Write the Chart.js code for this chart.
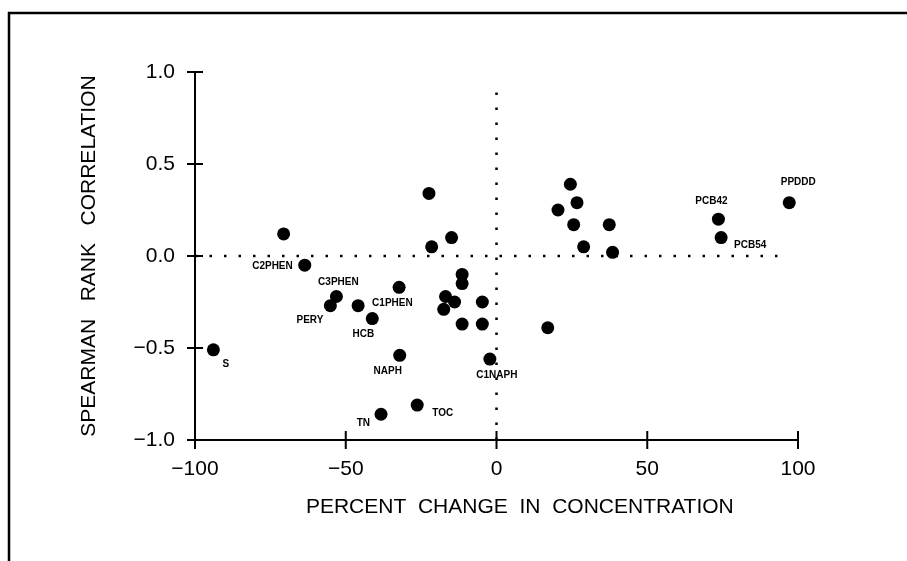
<!DOCTYPE html>
<html>
<head>
<meta charset="utf-8">
<script src="https://cdn.jsdelivr.net/npm/chart.js@4.4.1/dist/chart.umd.min.js"></script>
<style>
  body { margin: 0; background: #fff; }
  canvas { display: block; }
</style>
</head>
<body>
<canvas id="myChart" width="907" height="561"></canvas>
<script>
// percent change in concentration (x) vs spearman rank correlation (y)
const pctChange = [-93.9, -70.6, -63.6, -53.1, -55.1, -45.9, -41.2, -32.3, -32.1, -38.3, -26.3,
  -22.4, -21.5, -14.9, -11.4, -11.4, -16.9, -13.9, -17.5, -4.7, -11.4, -4.7, -2.2,
  17.0, 20.4, 24.5, 26.7, 25.6, 28.9, 37.4, 38.5, 73.6, 74.5, 97.1];
const spearman = [-0.51, 0.12, -0.05, -0.22, -0.27, -0.27, -0.34, -0.17, -0.54, -0.86, -0.81,
  0.34, 0.05, 0.10, -0.10, -0.15, -0.22, -0.25, -0.29, -0.25, -0.37, -0.37, -0.56,
  -0.39, 0.25, 0.39, 0.29, 0.17, 0.05, 0.17, 0.02, 0.20, 0.10, 0.29];
const pointNames = ["S", "", "C2PHEN", "C3PHEN", "PERY", "C1PHEN", "HCB", "", "NAPH", "TN", "TOC",
  "", "", "", "", "", "", "", "", "", "", "", "C1NAPH",
  "", "", "", "", "", "", "", "", "PCB42", "PCB54", "PPDDD"];

const xTicks = [-100, -50, 0, 50, 100];
const yTicks = [-1.0, -0.5, 0.0, 0.5, 1.0];

// dotted reference lines through zero
const zeroLineX = [-100, 94];
const zeroLineY = [-1.0, 0.89];

// label placement next to the dots (pixels)
const labelOffsets = {
  "S": [9, 14, "left"],
  "C2PHEN": [-12, 1, "right"],
  "C3PHEN": [2, -14, "center"],
  "PERY": [-7, 15, "right"],
  "C1PHEN": [14, -2, "left"],
  "HCB": [-9, 16, "center"],
  "NAPH": [-12, 16, "center"],
  "TN": [-11, 9, "right"],
  "TOC": [15, 8, "left"],
  "C1NAPH": [7, 16, "center"],
  "PCB42": [-7, -18, "center"],
  "PCB54": [13, 8, "left"],
  "PPDDD": [9, -20, "center"]
};

function minusSign(v, digits) {
  let s = Math.abs(v).toFixed(digits);
  return v < 0 ? "\u2212" + s : s;
}

let points = [];
for (let i = 0; i < pctChange.length; i += 1) {
  points.push({ x: pctChange[i], y: spearman[i] });
}

const extras = {
  id: "extras",
  beforeDraw(chart) {
    const c = chart.ctx;
    c.save();
    c.fillStyle = "#fff";
    c.fillRect(0, 0, chart.width, chart.height);
    c.strokeStyle = "#000";
    c.lineWidth = 2.5;
    c.beginPath();
    c.moveTo(9, chart.height);
    c.lineTo(9, 13);
    c.lineTo(chart.width, 13);
    c.stroke();
    c.restore();
  },
  afterDraw(chart) {
    const c = chart.ctx;
    const xs = chart.scales.x;
    const ys = chart.scales.y;
    const area = chart.chartArea;
    c.save();
    c.strokeStyle = "#000";
    c.lineWidth = 2;
    c.beginPath();
    xTicks.forEach(function (v) {
      let px = xs.getPixelForValue(v);
      c.moveTo(px, area.bottom - 9);
      c.lineTo(px, area.bottom + 9);
    });
    yTicks.forEach(function (v) {
      let py = ys.getPixelForValue(v);
      c.moveTo(area.left - 8, py);
      c.lineTo(area.left + 8, py);
    });
    c.stroke();

    // point names
    const meta = chart.getDatasetMeta(0);
    c.fillStyle = "#000";
    c.font = "bold 10px 'Liberation Sans', Arial, sans-serif";
    c.textBaseline = "middle";
    pointNames.forEach(function (name, i) {
      if (!name) return;
      let off = labelOffsets[name];
      let el = meta.data[i];
      c.textAlign = off[2];
      c.fillText(name, el.x + off[0], el.y + off[1]);
    });
    c.restore();
  }
};

Chart.defaults.font.family = "'Liberation Sans', Arial, sans-serif";
Chart.defaults.color = "#000";

const ctx = document.getElementById("myChart").getContext("2d");
const myChart = new Chart(ctx, {
  type: "scatter",
  data: {
    datasets: [
      {
        data: points,
        backgroundColor: "#000",
        borderWidth: 0,
        pointRadius: 6.5,
        pointHoverRadius: 6.5,
        clip: false,
        order: 1
      },
      {
        data: [{ x: zeroLineX[0], y: 0 }, { x: zeroLineX[1], y: 0 }],
        showLine: true,
        borderColor: "#000",
        borderWidth: 2.5,
        borderDash: [2.5, 12],
        pointRadius: 0,
        order: 2
      },
      {
        data: [{ x: 0, y: zeroLineY[0] }, { x: 0, y: zeroLineY[1] }],
        showLine: true,
        borderColor: "#000",
        borderWidth: 2.5,
        borderDash: [2.5, 12.5],
        pointRadius: 0,
        order: 2
      }
    ]
  },
  options: {
    responsive: false,
    animation: false,
    layout: { padding: { top: 72, right: 109, bottom: 0, left: 0 } },
    plugins: {
      legend: { display: false },
      tooltip: { enabled: false }
    },
    scales: {
      x: {
        min: -100,
        max: 100,
        afterFit: function (s) { s.height = 121; },
        afterBuildTicks: function (s) { s.ticks = xTicks.map(function (v) { return { value: v }; }); },
        grid: { display: false, drawTicks: false },
        border: { display: true, color: "#000", width: 2 },
        ticks: {
          padding: 17,
          maxRotation: 0,
          font: { size: 21 },
          callback: function (v) { return minusSign(v, 0); }
        },
        title: {
          display: true,
          // leading spaces push the title right, as in the original
          text: "        PERCENT  CHANGE  IN  CONCENTRATION",
          font: { size: 21 },
          padding: { top: 0, bottom: 41 }
        }
      },
      y: {
        min: -1,
        max: 1,
        afterFit: function (s) { s.width = 195; },
        afterBuildTicks: function (s) { s.ticks = yTicks.map(function (v) { return { value: v }; }); },
        grid: { display: false, drawTicks: false },
        border: { display: true, color: "#000", width: 2 },
        ticks: {
          padding: 20,
          font: { size: 21 },
          callback: function (v) { return minusSign(v, 1); }
        },
        title: {
          display: true,
          text: "SPEARMAN   RANK   CORRELATION",
          font: { size: 21 },
          padding: { top: 77, bottom: 0 }
        }
      }
    }
  },
  plugins: [extras]
});
</script>
</body>
</html>
